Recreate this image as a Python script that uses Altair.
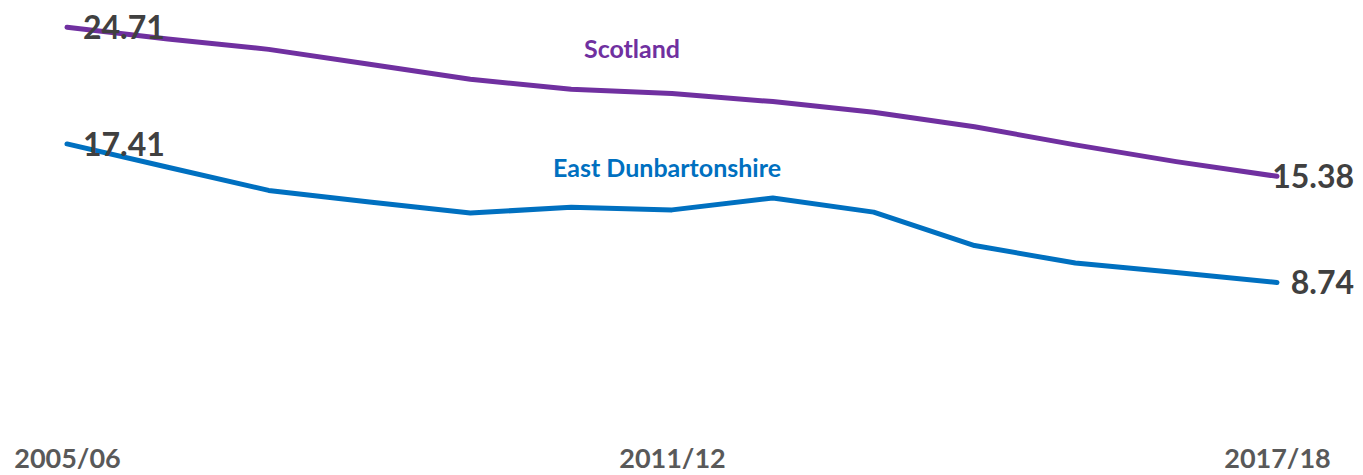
import altair as alt
import pandas as pd

years = ["2005/06", "2006/07", "2007/08", "2008/09", "2009/10", "2010/11", "2011/12",
         "2012/13", "2013/14", "2014/15", "2015/16", "2016/17", "2017/18"]
scotland = [24.71, 23.98, 23.33, 22.40, 21.46, 20.83, 20.57, 20.06, 19.39, 18.49, 17.35, 16.30, 15.38]
east_dunbartonshire = [17.41, 15.95, 14.50, 13.78, 13.08, 13.45, 13.28, 14.02, 13.14, 11.05, 9.95, 9.36, 8.74]
series_names = ["Scotland", "East Dunbartonshire"]
series_colors = ["#7030A0", "#0070C0"]
axis_labels = ["2005/06", "2011/12", "2017/18"]

rows = []
for name, vals in zip(series_names, [scotland, east_dunbartonshire]):
    for y, v in zip(years, vals):
        rows.append({"year": y, "series": name, "value": v})
df = pd.DataFrame(rows)

FONT = "Lato"

x_enc = alt.X("year:O", sort=years,
              scale=alt.Scale(type="point", range=[59, 1269], padding=0),
              axis=alt.Axis(values=axis_labels, labelAngle=0, ticks=False, domain=False,
                            grid=False, title=None, labelFont=FONT, labelFontSize=27,
                            labelFontWeight="bold", labelColor="#595959", labelPadding=24,
                            labelOverlap=False))
y_enc = alt.Y("value:Q", scale=alt.Scale(domain=[0, 25.92], nice=False, zero=True), axis=None)
color_enc = alt.Color("series:N", scale=alt.Scale(domain=series_names, range=series_colors), legend=None)

lines = alt.Chart(df).mark_line(strokeWidth=5, strokeCap="round", strokeJoin="round").encode(
    x=x_enc, y=y_enc, color=color_enc, detail="series:N")

first = df[df["year"] == years[0]]
last = df[df["year"] == years[-1]]

start_labels = alt.Chart(first).mark_text(
    align="left", baseline="middle", dx=16, dy=2, font=FONT, fontSize=32,
    fontWeight="bold", color="#404040").encode(
    x=alt.X("year:O", sort=years), y="value:Q", text=alt.Text("value:Q", format=".2f"))

end_labels = alt.Chart(last).mark_text(
    align="right", baseline="middle", dx=77, dy=2, font=FONT, fontSize=32,
    fontWeight="bold", color="#404040").encode(
    x=alt.X("year:O", sort=years), y="value:Q", text=alt.Text("value:Q", format=".2f"))

scot_label = alt.Chart(pd.DataFrame({"series": [series_names[0]]})).mark_text(
    align="center", baseline="middle", font=FONT, fontSize=25, fontWeight="bold").encode(
    x=alt.value(624), y=alt.value(42), text="series:N", color=color_enc)

ed_label = alt.Chart(pd.DataFrame({"series": [series_names[1]]})).mark_text(
    align="center", baseline="middle", font=FONT, fontSize=25, fontWeight="bold").encode(
    x=alt.value(659), y=alt.value(161), text="series:N", color=color_enc)

chart = alt.layer(lines, start_labels, end_labels, scot_label, ed_label).properties(
    width=1345, height=414,
    autosize=alt.AutoSizeParams(type="none"),
    padding={"left": 0, "top": 0, "right": 2, "bottom": 52},
).configure_view(stroke=None)

chart.save("out.html", embed_options={"renderer": "svg", "actions": False})
